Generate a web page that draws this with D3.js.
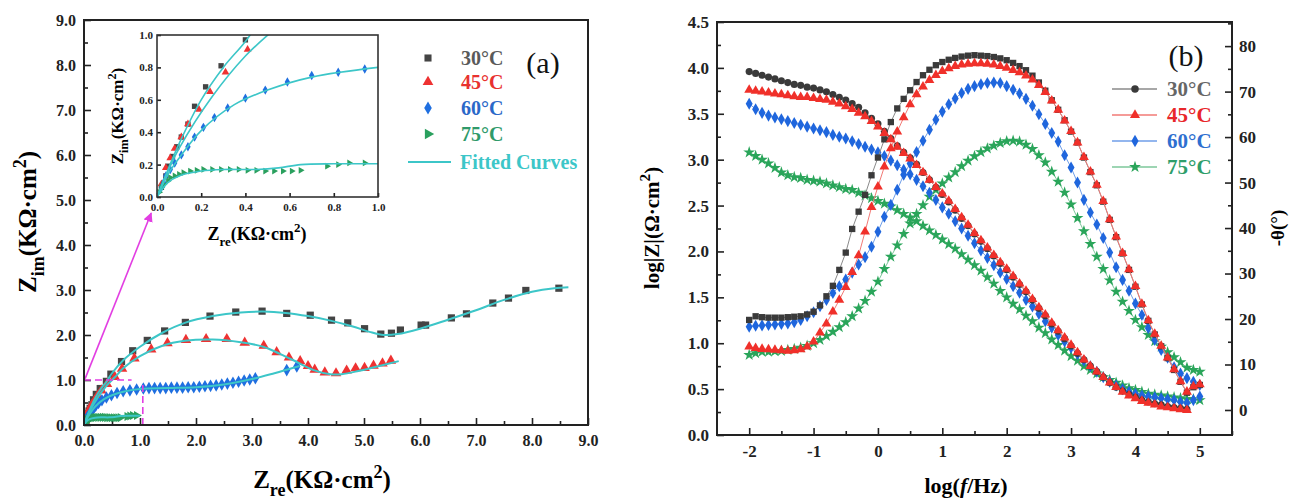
<!DOCTYPE html>
<html>
<head>
<meta charset="utf-8">
<script src="https://cdn.jsdelivr.net/npm/d3@7"></script>
<style>
  body { margin: 0; background: #fff; }
  svg { display: block; }
  text { font-family: "Liberation Serif", "Times New Roman", serif; font-weight: bold; }
</style>
</head>
<body>
<script>
// ---- panel (a): Nyquist data, [Zre, Zim] in kOhm.cm2 ----
const nyq30 = [[0.02,0.06],[0.04,0.13],[0.05,0.19],[0.07,0.25],[0.09,0.31],[0.11,0.37],[0.14,0.45],[0.17,0.56],[0.22,0.68],[0.29,0.81],[0.40,0.97],
  [0.48,1.13],[0.67,1.41],[0.87,1.65],[1.13,1.88],[1.44,2.09],[1.81,2.28],[2.25,2.42],[2.71,2.51],[3.18,2.53],[3.62,2.48],[4.04,2.44],
  [4.42,2.33],[4.71,2.27],[5.01,2.14],[5.30,2.02],[5.49,2.04],[5.65,2.11],[6.02,2.22],[6.10,2.22],[6.56,2.38],[6.83,2.47],[7.30,2.71],
  [7.58,2.82],[7.89,2.99],[8.48,3.04]];
const nyq45 = [[0.02,0.08],[0.04,0.18],[0.06,0.24],[0.08,0.30],[0.11,0.37],[0.14,0.45],[0.19,0.54],[0.24,0.65],[0.31,0.77],[0.41,0.91],
  [0.55,1.07],[0.68,1.25],[0.90,1.48],[1.20,1.68],[1.49,1.82],[1.82,1.89],[2.18,1.91],[2.55,1.91],[2.87,1.83],[3.21,1.76],[3.44,1.62],
  [3.66,1.50],[3.86,1.42],[4.00,1.31],[4.12,1.23],[4.30,1.17],[4.50,1.15],[4.69,1.21],[4.85,1.26],[5.01,1.27],[5.17,1.32],[5.33,1.37],[5.48,1.43]];
const nyq60 = [[0.02,0.06],[0.03,0.09],[0.04,0.13],[0.06,0.17],[0.08,0.21],[0.11,0.26],[0.14,0.31],[0.17,0.37],[0.21,0.43],[0.26,0.49],
  [0.32,0.55],[0.40,0.61],[0.49,0.66],[0.59,0.71],[0.70,0.75],[0.82,0.77],[0.94,0.79],[1.06,0.81],[1.16,0.82],[1.26,0.82],[1.36,0.82],
  [1.46,0.82],[1.56,0.83],[1.66,0.83],[1.76,0.83],[1.86,0.84],[1.96,0.84],[2.06,0.85],[2.16,0.86],[2.26,0.87],[2.36,0.88],[2.46,0.90],
  [2.56,0.92],[2.66,0.94],[2.76,0.96],[2.86,0.99],[2.96,1.01],[3.06,1.04],[3.62,1.22],[3.80,1.30]];
const nyq75 = [[0.01,0.03],[0.02,0.06],[0.03,0.08],[0.05,0.10],[0.06,0.12],[0.08,0.13],[0.10,0.14],[0.12,0.15],[0.15,0.16],[0.18,0.165],
  [0.21,0.17],[0.25,0.17],[0.29,0.17],[0.33,0.17],[0.37,0.17],[0.41,0.165],[0.45,0.165],[0.49,0.16],[0.53,0.16],[0.57,0.16],[0.61,0.16],
  [0.65,0.165],[0.77,0.19],[0.82,0.20],[0.87,0.21],[0.94,0.21]];

// fitted curves
const fit30 = [[0,0],[0.05,0.17],[0.1,0.33],[0.2,0.60],[0.3,0.80],[0.4,0.96],[0.5,1.15],[0.7,1.44],[1.0,1.74],[1.4,2.05],[1.8,2.27],
  [2.3,2.42],[2.8,2.50],[3.2,2.52],[3.6,2.49],[4.0,2.42],[4.4,2.32],[4.8,2.19],[5.1,2.07],[5.35,2.00],[5.6,2.02],[6.0,2.14],[6.5,2.34],
  [7.0,2.55],[7.5,2.78],[8.0,2.96],[8.4,3.04],[8.65,3.06]];
const fit45 = [[0,0],[0.05,0.16],[0.1,0.30],[0.25,0.62],[0.4,0.87],[0.55,1.06],[0.7,1.26],[1.0,1.53],[1.4,1.76],[1.8,1.87],[2.3,1.90],
  [2.8,1.84],[3.2,1.74],[3.5,1.58],[3.8,1.40],[4.1,1.22],[4.4,1.13],[4.6,1.13],[4.9,1.20],[5.2,1.29],[5.62,1.42]];
const fit60 = [[0,0],[0.05,0.14],[0.1,0.24],[0.2,0.41],[0.35,0.57],[0.5,0.66],[0.7,0.74],[1.0,0.80],[1.5,0.82],[2.0,0.84],[2.5,0.90],
  [3.0,1.02],[3.4,1.15],[3.85,1.31]];
const fit75 = [[0,0],[0.05,0.09],[0.1,0.13],[0.2,0.16],[0.3,0.17],[0.45,0.17],[0.55,0.18],[0.65,0.20],[0.8,0.205],[1.0,0.205]];

const nyqTicks = [0,1,2,3,4,5,6,7,8,9];
const insetTicks = [0,0.2,0.4,0.6,0.8,1.0];

// ---- panel (b): Bode data ----
const logF = [-2.0,-1.9,-1.8,-1.7,-1.6,-1.5,-1.4,-1.3,-1.2,-1.1,-1.0,-0.9,-0.8,-0.7,-0.6,-0.5,-0.4,-0.3,-0.2,-0.1,
  0.0,0.1,0.2,0.3,0.4,0.5,0.6,0.7,0.8,0.9,1.0,1.1,1.2,1.3,1.4,1.5,1.6,1.7,1.8,1.9,2.0,2.1,2.2,2.3,2.4,2.5,2.6,2.7,2.8,2.9,
  3.0,3.1,3.2,3.3,3.4,3.5,3.6,3.7,3.8,3.9,4.0,4.1,4.2,4.3,4.4,4.5,4.6,4.7,4.8,4.9,5.0];

const logZ30 = [3.96,3.94,3.92,3.90,3.88,3.86,3.84,3.82,3.81,3.79,3.78,3.76,3.74,3.71,3.68,3.65,3.61,3.57,3.51,3.45,
  3.39,3.31,3.23,3.15,3.08,3.02,2.95,2.86,2.78,2.70,2.62,2.54,2.45,2.36,2.28,2.19,2.11,2.03,1.95,1.87,1.80,1.72,1.64,1.56,1.47,
  1.38,1.30,1.21,1.13,1.05,0.97,0.89,0.82,0.75,0.69,0.63,0.57,0.52,0.48,0.44,0.41,0.38,0.36,0.34,0.33,0.31,0.30,0.29,0.28,null,null];
const logZ45 = [3.76,3.75,3.74,3.73,3.72,3.71,3.70,3.69,3.68,3.68,3.67,3.66,3.65,3.63,3.61,3.58,3.55,3.51,3.47,3.42,
  3.36,3.29,3.22,3.14,3.07,3.01,2.94,2.86,2.78,2.70,2.63,2.55,2.46,2.37,2.29,2.20,2.12,2.04,1.96,1.88,1.81,1.73,1.65,1.57,1.48,
  1.39,1.31,1.22,1.14,1.06,0.98,0.90,0.82,0.75,0.69,0.63,0.57,0.52,0.47,0.43,0.40,0.37,0.35,0.33,0.31,0.30,0.29,0.28,0.27,null,null];
const logZ60 = [3.61,3.55,3.51,3.48,3.46,3.44,3.42,3.40,3.38,3.36,3.34,3.32,3.30,3.27,3.25,3.23,3.20,3.17,3.14,3.11,
  3.08,3.04,2.99,2.94,2.89,2.84,2.78,2.71,2.64,2.56,2.48,2.41,2.33,2.25,2.17,2.09,2.01,1.93,1.85,1.77,1.70,1.62,1.55,1.47,1.40,
  1.32,1.24,1.17,1.09,1.02,0.95,0.88,0.81,0.75,0.69,0.63,0.58,0.54,0.50,0.47,0.45,0.43,0.42,0.41,0.40,0.39,0.38,0.36,0.35,0.38,0.42];
const logZ75 = [3.08,3.04,3.00,2.96,2.91,2.86,2.83,2.81,2.80,2.78,2.77,2.76,2.74,2.72,2.70,2.68,2.67,2.64,2.61,2.58,
  2.55,2.52,2.49,2.45,2.41,2.37,2.33,2.28,2.23,2.18,2.13,2.08,2.03,1.97,1.91,1.85,1.79,1.72,1.65,1.57,1.50,1.43,1.37,1.30,1.24,
  1.17,1.11,1.04,0.98,0.92,0.86,0.81,0.75,0.71,0.67,0.63,0.60,0.57,0.54,0.51,0.49,0.47,0.45,0.44,0.43,0.42,0.41,0.40,0.39,0.39,0.38];

const phase30 = [19.8,20.6,20.4,20.3,20.3,20.3,20.4,20.5,20.6,21.0,21.6,23.0,25.0,27.3,30.8,34.6,39.8,43.6,47.3,51.6,
  55.5,59.5,63.3,66.3,68.4,70.3,72.1,73.6,74.8,75.8,76.5,77.0,77.4,77.7,77.9,78.0,77.9,77.8,77.6,77.3,76.9,76.3,75.6,74.7,73.5,
  72.0,70.2,68.1,66.0,63.7,61.2,58.8,55.5,52.3,49.4,45.8,41.8,38.0,34.4,30.8,27.1,23.2,19.6,16.6,14.0,11.4,8.8,6.2,3.8,5.0,5.5];
const phase45 = [13.9,13.6,13.4,13.3,13.2,13.1,13.0,13.1,13.3,13.9,15.0,17.0,19.0,21.6,24.2,27.0,30.3,34.0,39.2,44.6,
  49.1,53.5,57.5,61.2,64.3,67.2,69.4,71.1,72.5,73.6,74.5,75.1,75.6,75.9,76.1,76.2,76.2,76.1,75.9,75.6,75.2,74.7,74.2,73.5,72.6,
  71.4,69.9,68.0,66.0,63.6,61.3,58.8,55.6,52.4,49.5,45.9,41.9,38.1,34.5,30.9,27.2,23.3,19.7,16.7,14.1,11.5,8.9,6.3,4.0,5.2,5.6];
const phase60 = [18.3,18.5,18.6,18.7,18.8,18.9,19.0,19.3,19.8,20.6,21.5,22.8,24.2,25.7,27.2,28.7,30.2,32.0,33.6,35.9,
  39.2,42.5,45.1,48.4,51.7,54.2,56.7,59.2,61.6,63.8,65.6,67.2,68.5,69.7,70.6,71.2,71.6,71.9,72.0,71.9,71.2,70.4,69.6,68.4,66.9,
  65.0,62.9,60.9,59.0,56.0,53.3,50.0,46.2,43.4,40.8,37.8,34.6,31.4,28.6,26.2,23.4,20.9,18.0,15.4,13.2,11.5,9.4,8.0,7.0,6.2,5.5];
const phase75 = [12.1,12.5,12.8,12.8,12.9,13.0,13.2,13.4,13.7,14.1,14.7,15.4,16.3,17.2,18.2,19.3,20.6,22.3,24.0,26.0,
  28.2,31.0,33.7,36.2,38.7,41.0,43.1,45.0,46.9,48.4,49.8,51.1,52.3,53.6,54.8,55.8,56.7,57.5,58.1,58.7,59.1,59.2,59.0,58.3,57.4,
  56.0,54.4,52.4,50.2,47.8,45.2,42.2,39.3,36.5,33.7,31.0,28.5,26.0,23.8,21.8,19.8,18.2,16.5,15.1,13.9,12.7,11.6,10.5,9.3,8.8,8.4];

const bodeXTicks = [-2,-1,0,1,2,3,4,5];
const bodeYTicks = [0,0.5,1.0,1.5,2.0,2.5,3.0,3.5,4.0,4.5];
const phaseTicks = [0,10,20,30,40,50,60,70,80];
const temps = ["30°C","45°C","60°C","75°C"];

const chart = (() => {
  var drawNyquist, drawBode, richText, drawPts, styleAxis, initModule;

  const W = 1290, H = 499;
  const fit = "#3cc6c8", magenta = "#e23ee2";
  const colA = ["#444444","#ee3232","#1f6fe0","#2aa05e"];
  const legA = ["#5a5a5a","#e8312f","#2b68c8","#2f9a6a"];

  // text with sub/superscript pieces
  richText = (sel, parts, size) => {
    let shift = 0;
    parts.forEach(([t, k]) => {
      const target = k === "sub" ? size*0.32 : k === "sup" ? -size*0.42 : 0;
      const ts = sel.append("tspan").attr("dy", target - shift)
        .attr("font-size", (k === "sub" || k === "sup") ? size*0.72 : size).text(t);
      if (k === "it") ts.attr("font-style", "italic");
      shift = target;
    });
  };

  drawPts = (g, data, sym, size, color, rot) => {
    g.selectAll(null).data(data).enter().append("path")
      .attr("d", d3.symbol().type(sym).size(size))
      .attr("transform", d => `translate(${d[0]},${d[1]})` + (rot ? ` rotate(${rot})` : ""))
      .attr("fill", color);
  };

  styleAxis = (g, fs) => {
    g.select(".domain").remove();
    g.selectAll(".tick line").attr("stroke", "#222").attr("stroke-width", 1.6);
    g.selectAll(".tick text").attr("font-size", fs).attr("fill", "#222");
  };

  drawNyquist = (svg) => {
    const x = d3.scaleLinear([0, 9], [84, 588]);
    const y = d3.scaleLinear([0, 9], [425, 20]);
    const minor = nyqTicks.slice(0, -1).map(d => d + 0.5);

    svg.append("defs").append("clipPath").attr("id", "clipA")
      .append("rect").attr("x", 84).attr("y", 20).attr("width", 504).attr("height", 405);

    const ax = svg.append("g").attr("transform", "translate(0,425)")
      .call(d3.axisBottom(x).tickValues(nyqTicks).tickFormat(d3.format(".1f")).tickSize(-7).tickPadding(10));
    styleAxis(ax, 16);
    styleAxis(svg.append("g").attr("transform", "translate(0,425)")
      .call(d3.axisBottom(x).tickValues(minor).tickFormat("").tickSize(-4)), 16);
    const ay = svg.append("g").attr("transform", "translate(84,0)")
      .call(d3.axisLeft(y).tickValues(nyqTicks).tickFormat(d3.format(".1f")).tickSize(-7).tickPadding(8));
    styleAxis(ay, 16);
    styleAxis(svg.append("g").attr("transform", "translate(84,0)")
      .call(d3.axisLeft(y).tickValues(minor).tickFormat("").tickSize(-4)), 16);

    const plot = svg.append("g").attr("clip-path", "url(#clipA)");
    const sets = [nyq30, nyq45, nyq60, nyq75];
    const syms = [d3.symbolSquare, d3.symbolTriangle, d3.symbolDiamond, d3.symbolTriangle];
    const rots = [0, 0, 0, 90];
    const sizes = [52, 48, 46, 36];
    sets.forEach((s, i) => drawPts(plot, s.map(d => [x(d[0]), y(d[1])]), syms[i], sizes[i], colA[i], rots[i]));

    const line = d3.line().x(d => x(d[0])).y(d => y(d[1])).curve(d3.curveCatmullRom);
    [fit30, fit45, fit60, fit75].forEach(f => plot.append("path").attr("d", line(f))
      .attr("fill", "none").attr("stroke", fit).attr("stroke-width", 2));

    // zoom box and arrow
    svg.append("path").attr("d", `M${x(0)},${y(1)}H${x(0.85)}M${x(1.05)},${y(0)}V${y(0.95)}`)
      .attr("fill", "none").attr("stroke", magenta).attr("stroke-width", 1.6).attr("stroke-dasharray", "7,4");
    svg.append("defs").append("marker").attr("id", "arr").attr("viewBox", "0 0 10 10")
      .attr("refX", 9).attr("refY", 5).attr("markerWidth", 6).attr("markerHeight", 6).attr("orient", "auto")
      .append("path").attr("d", "M0,0L10,5L0,10Z").attr("fill", magenta);
    svg.append("line").attr("x1", x(0.02)).attr("y1", y(1.03)).attr("x2", x(1.2)).attr("y2", y(4.71))
      .attr("stroke", magenta).attr("stroke-width", 1.6).attr("marker-end", "url(#arr)");

    svg.append("rect").attr("x", 84).attr("y", 20).attr("width", 504).attr("height", 405)
      .attr("fill", "none").attr("stroke", "#222").attr("stroke-width", 2);

    // inset
    const xi = d3.scaleLinear([0, 1], [157, 378]);
    const yi = d3.scaleLinear([0, 1], [197, 35]);
    svg.append("rect").attr("x", 157).attr("y", 35).attr("width", 221).attr("height", 162).attr("fill", "#fff");
    svg.append("defs").append("clipPath").attr("id", "clipI")
      .append("rect").attr("x", 157).attr("y", 35).attr("width", 221).attr("height", 162);
    const ix = svg.append("g").attr("transform", "translate(0,197)")
      .call(d3.axisBottom(xi).tickValues(insetTicks).tickFormat(d3.format(".1f")).tickSize(-4).tickPadding(6));
    styleAxis(ix, 11);
    const iy = svg.append("g").attr("transform", "translate(157,0)")
      .call(d3.axisLeft(yi).tickValues(insetTicks).tickFormat(d3.format(".1f")).tickSize(-4).tickPadding(4));
    styleAxis(iy, 11);
    const ip = svg.append("g").attr("clip-path", "url(#clipI)");
    sets.forEach((s, i) => drawPts(ip, s.filter(d => d[0] <= 1.05).map(d => [xi(d[0]), yi(d[1])]),
      syms[i], sizes[i]*0.55, colA[i], rots[i]));
    const li = d3.line().x(d => xi(d[0])).y(d => yi(d[1])).curve(d3.curveCatmullRom);
    [fit30, fit45, fit60, fit75].forEach(f => ip.append("path").attr("d", li(f.filter(d => d[0] <= 1.2)))
      .attr("fill", "none").attr("stroke", fit).attr("stroke-width", 1.6));
    svg.append("rect").attr("x", 157).attr("y", 35).attr("width", 221).attr("height", 162)
      .attr("fill", "none").attr("stroke", "#333").attr("stroke-width", 1.6);

    richText(svg.append("text").attr("transform", "translate(123,116) rotate(-90)").attr("text-anchor", "middle"),
      [["Z"],["im","sub"],["(KΩ·cm"],["2","sup"],[")"]], 17);
    richText(svg.append("text").attr("x", 257).attr("y", 240).attr("text-anchor", "middle"),
      [["Z"],["re","sub"],["(KΩ·cm"],["2","sup"],[")"]], 18);

    // main titles
    richText(svg.append("text").attr("transform", "translate(36,222) rotate(-90)").attr("text-anchor", "middle"),
      [["Z"],["im","sub"],["(KΩ·cm"],["2","sup"],[")"]], 25);
    richText(svg.append("text").attr("x", 322).attr("y", 488).attr("text-anchor", "middle"),
      [["Z"],["re","sub"],["(KΩ·cm"],["2","sup"],[")"]], 25);

    // legend
    const ly = [58, 82, 108, 134];
    temps.forEach((t, i) => {
      drawPts(svg, [[428, ly[i]]], syms[i], 50, colA[i], rots[i]);
      svg.append("text").attr("x", 461).attr("y", ly[i]).attr("dy", "0.35em").attr("font-size", 20)
        .attr("fill", legA[i]).text(t);
    });
    svg.append("line").attr("x1", 408).attr("x2", 451).attr("y1", 162).attr("y2", 162)
      .attr("stroke", fit).attr("stroke-width", 2);
    svg.append("text").attr("x", 460).attr("y", 162).attr("dy", "0.35em").attr("font-size", 20)
      .attr("fill", fit).text("Fitted Curves");
    svg.append("text").attr("x", 543).attr("y", 62).attr("dy", "0.35em").attr("text-anchor", "middle")
      .attr("font-size", 30).style("font-weight", "normal").attr("fill", "#111").text("(a)");
  };

  drawBode = (svg) => {
    const x = d3.scaleLinear([-2.5, 5.5], [717, 1232]);
    const y = d3.scaleLinear([0, 4.5], [435, 22]);
    const y2 = d3.scaleLinear([-5.5, 85.3], [435, 22]);
    const colB = ["#3a3a3a","#f0302a","#1f66dd","#2aa55a"];
    const lineB = ["#8a8a8a","#f27a76","#6f9ee8","#7cc79a"];
    const legB = ["#666666","#e8262a","#2e6fd0","#2e9e6a"];

    const ax = svg.append("g").attr("transform", "translate(0,435)")
      .call(d3.axisBottom(x).tickValues(bodeXTicks).tickFormat(d => String(d)).tickSize(-7).tickPadding(10));
    styleAxis(ax, 17);
    styleAxis(svg.append("g").attr("transform", "translate(0,435)")
      .call(d3.axisBottom(x).tickValues(bodeXTicks.map(d => d + 0.5)).tickFormat("").tickSize(-4)), 17);
    const ay = svg.append("g").attr("transform", "translate(717,0)")
      .call(d3.axisLeft(y).tickValues(bodeYTicks).tickFormat(d3.format(".1f")).tickSize(-7).tickPadding(8));
    styleAxis(ay, 17);
    styleAxis(svg.append("g").attr("transform", "translate(717,0)")
      .call(d3.axisLeft(y).tickValues(bodeYTicks.slice(0, -1).map(d => d + 0.25)).tickFormat("").tickSize(-4)), 17);
    const ar = svg.append("g").attr("transform", "translate(1232,0)")
      .call(d3.axisRight(y2).tickValues(phaseTicks).tickFormat(d => String(d)).tickSize(-7).tickPadding(7));
    styleAxis(ar, 17);
    styleAxis(svg.append("g").attr("transform", "translate(1232,0)")
      .call(d3.axisRight(y2).tickValues(phaseTicks.map(d => d + 5)).tickFormat("").tickSize(-4)), 17);

    const mags = [logZ30, logZ45, logZ60, logZ75];
    const phs = [phase30, phase45, phase60, phase75];
    const magSym = [d3.symbolCircle, d3.symbolTriangle, d3.symbolDiamond, d3.symbolStar];
    const phSym = [d3.symbolSquare, d3.symbolTriangle, d3.symbolDiamond, d3.symbolStar];
    const sz = [40, 42, 42, 44];

    [3, 2, 0, 1].forEach(i => {
      const m = logF.map((f, j) => [f, mags[i][j]]).filter(d => d[1] !== null);
      const p = logF.map((f, j) => [f, phs[i][j]]).filter(d => d[1] !== null);
      const lm = d3.line().x(d => x(d[0])).y(d => y(d[1]));
      const lp = d3.line().x(d => x(d[0])).y(d => y2(d[1]));
      svg.append("path").attr("d", lm(m)).attr("fill", "none").attr("stroke", lineB[i]).attr("stroke-width", 1);
      svg.append("path").attr("d", lp(p)).attr("fill", "none").attr("stroke", lineB[i]).attr("stroke-width", 1);
      drawPts(svg, m.map(d => [x(d[0]), y(d[1])]), magSym[i], sz[i], colB[i]);
      drawPts(svg, p.map(d => [x(d[0]), y2(d[1])]), phSym[i], sz[i], colB[i]);
    });

    svg.append("rect").attr("x", 717).attr("y", 22).attr("width", 515).attr("height", 413)
      .attr("fill", "none").attr("stroke", "#222").attr("stroke-width", 2);

    // legend
    const ly = [89, 115, 141, 167];
    temps.forEach((t, i) => {
      svg.append("line").attr("x1", 1112).attr("x2", 1157).attr("y1", ly[i]).attr("y2", ly[i])
        .attr("stroke", lineB[i]).attr("stroke-width", 1.5);
      drawPts(svg, [[1135, ly[i]]], magSym[i], 44, colB[i]);
      svg.append("text").attr("x", 1167).attr("y", ly[i]).attr("dy", "0.35em").attr("font-size", 21)
        .attr("fill", legB[i]).text(t);
    });
    svg.append("text").attr("x", 1186).attr("y", 55).attr("dy", "0.35em").attr("text-anchor", "middle")
      .attr("font-size", 30).style("font-weight", "normal").attr("fill", "#111").text("(b)");

    // titles
    richText(svg.append("text").attr("transform", "translate(659,228) rotate(-90)").attr("text-anchor", "middle"),
      [["log|Z|(Ω·cm"],["2","sup"],[")"]], 21);
    richText(svg.append("text").attr("x", 966).attr("y", 493).attr("text-anchor", "middle"),
      [["log("],["f","it"],["/Hz)"]], 22);
    svg.append("text").attr("transform", "translate(1277,228) rotate(-90)").attr("text-anchor", "middle")
      .attr("dy", "0.35em").attr("font-size", 19).text("-θ(°)");
  };

  initModule = () => {
    const svg = d3.select("body").append("svg").attr("width", W).attr("height", H);
    drawNyquist(svg);
    drawBode(svg);
    return "chart initialized";
  };

  return { initModule: initModule };
})();

chart.initModule();
</script>
</body>
</html>
